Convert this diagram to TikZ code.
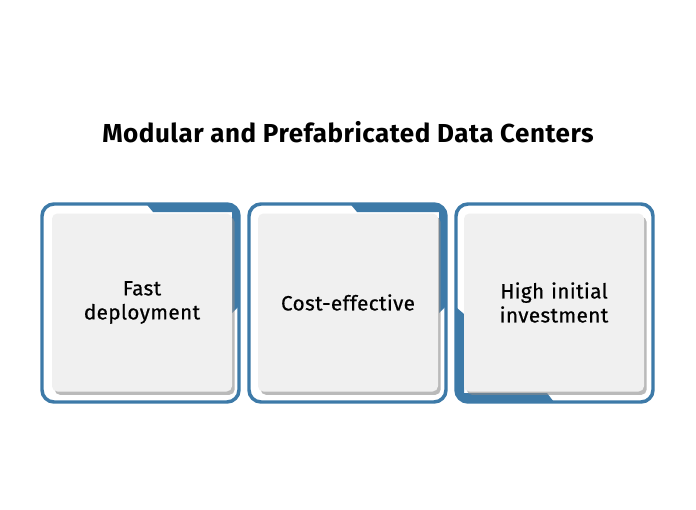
\documentclass[tikz,border=0pt]{standalone}
\usepackage{fontspec}
\setmainfont{Fira Sans}
\usetikzlibrary{shadows}
\definecolor{cardblue}{HTML}{3D7AA8}
\definecolor{cardgray}{HTML}{F0F0F0}
\tikzset{
    card-frame/.style = {draw=cardblue, line width=2.6pt, fill=white, rounded corners=9pt},
    card-face/.style = {fill=cardgray, rounded corners=4pt, drop shadow={shadow xshift=2pt, shadow yshift=-2.5pt, fill=black!45, opacity=.6}},
    card-text/.style = {font=\fontsize{15.5}{18}\selectfont\addfontfeature{FakeBold=0.6,LetterSpace=2}, align=center, text width=130pt},
}
\begin{document}
\begin{tikzpicture}[x=0.75pt, y=-0.75pt]
\useasboundingbox (0,0) rectangle (696,510);
\fill[white] (0,0) rectangle (696,510);
\node[font=\fontsize{19.5}{22}\selectfont\bfseries\addfontfeature{LetterSpace=2}] (title) at (348,132) {Modular and Prefabricated Data Centers};
% cards
\foreach \x/\name in {42/fast, 249/cost, 456/high} {
  \draw[card-frame] (\x,204) rectangle ++(197,198);
}
% blue corner strips
\begin{scope}
  \clip[rounded corners=9pt] (42,204) rectangle ++(197,198);
  \fill[cardblue] (143,200) -- (245,200) -- (245,300) -- (232,313) -- (232,212) -- (153,212) -- cycle;
\end{scope}
\begin{scope}
  \clip[rounded corners=9pt] (249,204) rectangle ++(197,198);
  \fill[cardblue] (347,200) -- (452,200) -- (452,300) -- (439,313) -- (439,212) -- (357,212) -- cycle;
\end{scope}
\begin{scope}
  \clip[rounded corners=9pt] (456,204) rectangle ++(197,198);
  \fill[cardblue] (450,302) -- (464,314) -- (464,393) -- (547,393) -- (557,406) -- (450,406) -- cycle;
\end{scope}
\node[card-face, minimum width=180pt*0.75, minimum height=178pt*0.75] (fast-face) at (142,302.5) {};
\node[card-face, minimum width=180pt*0.75, minimum height=178pt*0.75] (cost-face) at (348,302.5) {};
\node[card-face, minimum width=180pt*0.75, minimum height=178pt*0.75] (high-face) at (554,302.5) {};
\node[card-text] (fast) at (fast-face) {Fast\\deployment};
\node[card-text] (cost) at (cost-face) {Cost-effective};
\node[card-text] (high) at (high-face) {High initial\\investment};
\end{tikzpicture}
\end{document}
